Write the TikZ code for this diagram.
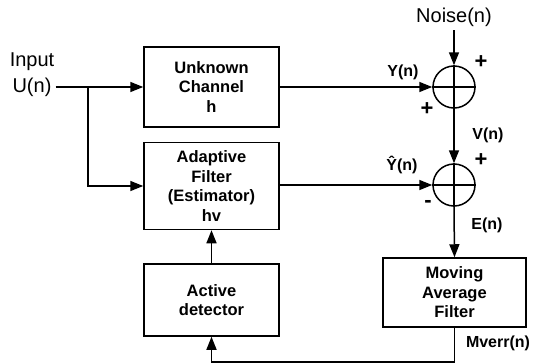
\documentclass[tikz,border=0pt]{standalone}
\usepackage{fontspec}
\setmainfont{Liberation Sans}
\usepackage{tikz}
\usetikzlibrary{arrows.meta,calc}
\tikzset{block/.style={draw,line width=1.5pt,minimum width=135pt,align=center,inner sep=0pt,font=\fontsize{16.5}{19.5}\selectfont\bfseries}}
\tikzset{sum/.style={circle,draw,line width=1.5pt,minimum size=42pt,inner sep=0pt}}

\begin{document}
\begin{tikzpicture}
[x=1pt, y=-1pt, line width=1.5pt, >={Triangle[length=13pt,width=10pt]},
 lbl/.style={font=\fontsize{16}{18}\selectfont\bfseries},
 big/.style={font=\fontsize{20}{22}\selectfont},
 sgn/.style={font=\fontsize{22}{22}\selectfont\bfseries}]
\useasboundingbox (0,0) rectangle (533,364);
\node (input) at (32,62)[big]{Input};
\node (un) at (32,87)[big]{U(n)};
\node (noise) at (454,17)[big]{Noise(n)};

\node (chan) at (211.5,87)[block,minimum height=80pt]{Unknown\\Channel\\h};
\node (filt) at (211.5,186)[block,minimum height=87pt]{Adaptive\\Filter\\(Estimator)\\hv};
\node (det) at (211.5,300)[block,minimum height=72pt]{Active\\detector};
\node (ma) at (454.5,292.5)[block,minimum width=143pt,minimum height=69pt]{Moving\\Average\\Filter};

\node (s1) at (454,87)[sum]{};
\node (s2) at (454,185)[sum]{};
\draw (s1.north) -- (s1.south);
\draw (s1.west) -- (s1.east);
\draw (s2.north) -- (s2.south);
\draw (s2.west) -- (s2.east);

\node (yn) at (403,72)[lbl]{Y(n)};
\node (vn) at (488,135)[lbl]{V(n)};
\node (yhat) at (402,165)[lbl]{Ŷ(n)};
\node (en) at (487,225)[lbl]{E(n)};
\node (mverr) at (498,343)[lbl]{Mverr(n)};
\node (p1) at (481,62)[sgn]{+};
\node (p2) at (427,109)[sgn]{+};
\node (p3) at (481,160)[sgn]{+};
\node (m1) at (428,204)[sgn]{-};

\coordinate (split) at (88,87);
\draw[->] (un.east) -- (chan.west);
\draw[->] (split) |- (filt.west);
\draw[->] (chan.east) -- (s1.west);
\draw[->] (noise.south) -- (s1.north);
\draw[->] (s1.south) -- (s2.north);
\draw[->] (filt.east |- s2) -- (s2.west);
\draw[->] (s2.south) -- (ma.north);
\draw[->] (det.north) -- (filt.south);
\draw[->] (ma.south) -- (ma.south |- 0,362) -| (det.south);
\end{tikzpicture}
\end{document}
